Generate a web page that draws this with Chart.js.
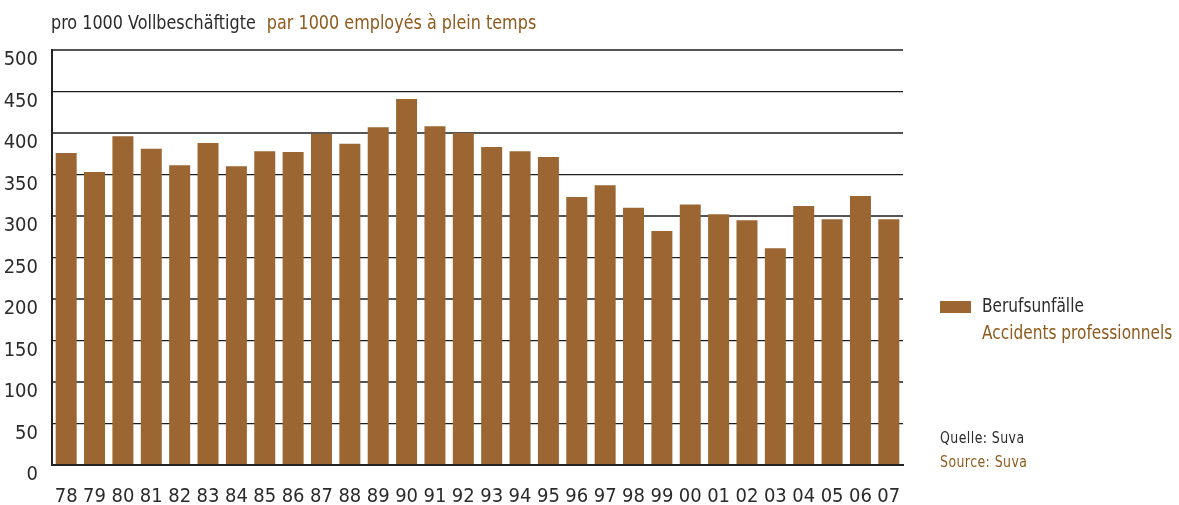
<!DOCTYPE html>
<html>
<head>
<meta charset="utf-8">
<script src="https://cdn.jsdelivr.net/npm/chart.js@4.4.0/dist/chart.umd.min.js"></script>
<style>
  html, body { margin: 0; padding: 0; background: #fff; }
  #wrap { width: 1179px; height: 505px; }
</style>
</head>
<body>
<div id="wrap"><canvas id="chart" width="1179" height="505"></canvas></div>
<script>
// Berufsunfälle pro 1000 Vollbeschäftigte, 1978-2007
const years = ['78','79','80','81','82','83','84','85','86','87','88','89','90','91','92',
               '93','94','95','96','97','98','99','00','01','02','03','04','05','06','07'];
const accidents = [376,353,396,381,361,388,360,378,377,399,387,407,441,408,400,
                   383,378,371,323,337,310,282,314,302,295,261,312,296,324,296];
const seriesLabels = ['Berufsunfälle', 'Accidents professionnels'];
const titleParts = ['pro 1000 Vollbeschäftigte', 'par 1000 employés à plein temps'];
const sourceLines = ['Quelle: Suva', 'Source: Suva'];

const FONT = "'Liberation Sans Narrow', 'DejaVu Sans Condensed', 'Arial Narrow', sans-serif";
const DARK = '#2b2b2b';
const BROWN = '#8f5a1c';
const BAR = '#9b6631';

Chart.defaults.font.family = FONT;

// squeezed text, the condensed face is a bit too wide
function narrowText(ctx, str, x, y, size, color, sx) {
  ctx.save();
  ctx.font = size + 'px ' + FONT;
  ctx.fillStyle = color;
  ctx.translate(x, y);
  ctx.scale(sx, 1);
  ctx.fillText(str, 0, 0);
  const w = ctx.measureText(str).width * sx;
  ctx.restore();
  return w;
}

// title line, legend and source notes drawn around the plot
const captions = {
  id: 'captions',
  afterDraw(chart) {
    const ctx = chart.ctx;
    ctx.save();
    ctx.textBaseline = 'alphabetic';
    ctx.textAlign = 'left';

    const w = narrowText(ctx, titleParts[0], 51, 29, 20, DARK, 0.89);
    narrowText(ctx, titleParts[1], 51 + w + 11, 29, 20, BROWN, 0.89);

    ctx.fillStyle = chart.data.datasets[0].backgroundColor;
    ctx.fillRect(940, 301, 31, 12);
    narrowText(ctx, seriesLabels[0], 982, 312, 19, DARK, 0.9);
    narrowText(ctx, seriesLabels[1], 982, 339, 19, BROWN, 0.9);

    ctx.letterSpacing = '0.5px';
    narrowText(ctx, sourceLines[0], 940, 443, 16, DARK, 0.87);
    narrowText(ctx, sourceLines[1], 940, 467, 16, BROWN, 0.87);
    ctx.restore();
  }
};

new Chart(document.getElementById('chart'), {
  type: 'bar',
  data: {
    labels: years,
    datasets: [{
      label: seriesLabels[0],
      data: accidents,
      backgroundColor: BAR,
      categoryPercentage: 1,
      barPercentage: 0.74
    }]
  },
  options: {
    responsive: false,
    animation: false,
    devicePixelRatio: 1,
    layout: { padding: { top: 50, right: 276, left: 0, bottom: 0 } },
    plugins: {
      legend: { display: false },
      tooltip: { enabled: false }
    },
    scales: {
      x: {
        grid: { display: false },
        border: { display: true, color: '#222', width: 2 },
        ticks: {
          color: DARK,
          font: { size: 20 },
          padding: 12,
          maxRotation: 0,
          autoSkip: false
        },
        afterFit: s => { s.height = 40; }
      },
      y: {
        min: 0,
        max: 500,
        grid: {
          drawTicks: false,
          color: c => c.tick.value % 100 === 0 ? '#555' : '#1e1e1e',
          lineWidth: c => c.tick.value % 100 === 0 ? 2 : 1.3
        },
        border: { display: true, color: '#222', width: 2 },
        ticks: {
          stepSize: 50,
          color: DARK,
          font: { size: 20 },
          padding: 14,
          labelOffset: 10
        },
        afterFit: s => { s.width = 52; }
      }
    }
  },
  plugins: [captions]
});
</script>
</body>
</html>
